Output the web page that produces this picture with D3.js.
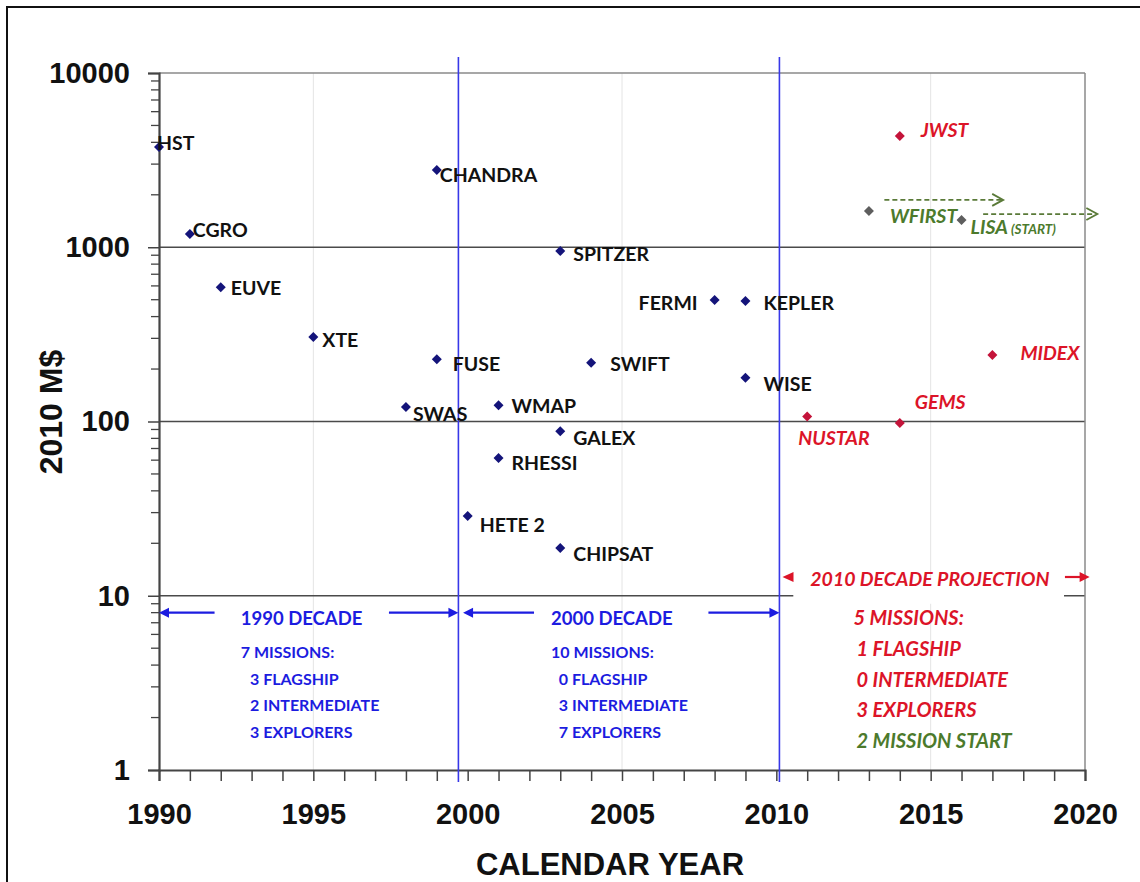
<!DOCTYPE html>
<html><head><meta charset="utf-8">
<script src="https://cdn.jsdelivr.net/npm/d3@7"></script>
<style>body{margin:0;background:#fff} svg{display:block}</style>
</head><body>
<svg id="c" width="1140" height="882"></svg>
<script>
// ---------- data ----------
const missionNames  = ["HST","CGRO","EUVE","XTE","CHANDRA","FUSE","SWAS","WMAP","HETE 2","RHESSI","GALEX","CHIPSAT","SPITZER","SWIFT","FERMI","KEPLER","WISE","NUSTAR","GEMS","JWST","MIDEX","WFIRST","LISA"];
const missionYears  = [1990,1991,1992,1995,1999,1999,1998,2001,2000,2001,2003,2003,2003,2004,2008,2009,2009,2011,2014,2014,2017,2013,2016];
const missionCosts  = [3760,1190,590,305,2775,228,121,124,28.7,61.7,88,18.8,951,217,498,492,178,107,98,4350,241,1615,1433];
const missionGroups = ["past","past","past","past","past","past","past","past","past","past","past","past","past","past","past","past","past","future","future","future","future","start","start"];
const xTickLabels = [1990,1995,2000,2005,2010,2015,2020];
const yTickLabels = [1,10,100,1000,10000];
const decadeBoundaries = [1999.7,2010.1];
const decade1990Lines = ["7 MISSIONS:","3 FLAGSHIP","2 INTERMEDIATE","3 EXPLORERS"];
const decade2000Lines = ["10 MISSIONS:","0 FLAGSHIP","3 INTERMEDIATE","7 EXPLORERS"];
const decade2010Lines = ["5 MISSIONS:","1 FLAGSHIP","0 INTERMEDIATE","3 EXPLORERS","2 MISSION START"];
// dashed "start" arrows: [fromYear, toYear, cost]
const startArrows = [[2013.5,2017.35,1870],[2016.7,2020.4,1550]];

// ---------- layout (label offsets in px) ----------
const labelOffsets = {
  "HST":[-2,-4],"CGRO":[3,-4],"EUVE":[10,1],"XTE":[9,3],"CHANDRA":[3,5],"FUSE":[16,5],
  "SWAS":[7,7],"WMAP":[13,1],"HETE 2":[12,9],"RHESSI":[13,5],"GALEX":[13,7],"CHIPSAT":[13,6],
  "SPITZER":[13,3],"SWIFT":[19,1],"FERMI":[-17,3],"KEPLER":[18,2],"WISE":[18,6],
  "NUSTAR":[-9,22],"GEMS":[15,-21],"JWST":[21,-6],"MIDEX":[28,-2],"WFIRST":[21,5],"LISA":[9,7]
};

const W = 1140, H = 882;
const L = 159, R = 1085, T = 73, B = 770;
const svg = d3.select("#c");
const x = d3.scaleLinear().domain([1990,2020]).range([L,R]);
const y = d3.scaleLog().domain([1,10000]).range([B,T]);

const NAVY = "#14147a", RED = "#dc1428", REDM = "#c4143a", GREEN = "#4c7a2c", GRAYM = "#5e5e5e";
const BLUE = "#1c1ce0", BLUEL = "#3838e8";
const LABEL_FONT = "Lato, 'Open Sans', sans-serif";
const AXIS_FONT = "'Liberation Sans', Arial, sans-serif";

svg.append("rect").attr("width",W).attr("height",H).attr("fill","#fff");
// outer frame
svg.append("rect").attr("x",7).attr("y",7).attr("width",W+20).attr("height",H+20)
  .attr("fill","none").attr("stroke","#111").attr("stroke-width",2);

// faint vertical grid
svg.append("g").selectAll("line").data([1995,2005,2015]).join("line")
  .attr("x1",d=>x(d)).attr("x2",d=>x(d)).attr("y1",T).attr("y2",B)
  .attr("stroke","#e4e4e4").attr("stroke-width",1);

// horizontal grid
svg.append("g").selectAll("line").data([10,100,1000]).join("line")
  .attr("x1",L).attr("x2",R).attr("y1",d=>y(d)).attr("y2",d=>y(d))
  .attr("stroke","#4a4a4a").attr("stroke-width",1.3);
svg.append("line").attr("x1",L).attr("x2",R).attr("y1",y(10000)).attr("y2",y(10000))
  .attr("stroke","#8a8a8a").attr("stroke-width",1.5);
svg.append("line").attr("x1",R).attr("x2",R).attr("y1",T).attr("y2",B)
  .attr("stroke","#8a8a8a").attr("stroke-width",1.5);

// white box behind projection title (cuts the grid line)
svg.append("rect").attr("x",x(2010.55)).attr("y",y(10)-16).attr("width",x(2019.32)-x(2010.55)).attr("height",24).attr("fill","#fff");

// axes
const yAxis = d3.axisLeft(y).tickValues(yTickLabels).tickFormat(d3.format("d")).tickSize(11).tickPadding(18);
const gy = svg.append("g").attr("transform",`translate(${L},0)`).call(yAxis);
const minorY = [];
for (let e=0;e<4;e++) for (let m=2;m<=9;m++) minorY.push(m*Math.pow(10,e));
gy.selectAll(".minor").data(minorY).join("line").attr("class","minor")
  .attr("x1",-8).attr("x2",0).attr("y1",d=>y(d)).attr("y2",d=>y(d))
  .attr("stroke","#444").attr("stroke-width",1.3);
gy.select(".domain").attr("stroke","#444").attr("stroke-width",2.2);
gy.selectAll(".tick line").attr("stroke","#444").attr("stroke-width",1.5);
gy.selectAll(".tick text").attr("font-family",AXIS_FONT).attr("font-weight","bold")
  .attr("font-size",29).attr("fill","#111");

const xAxis = d3.axisBottom(x).tickValues(d3.range(1990,2021)).tickSize(11)
  .tickFormat(d=> xTickLabels.includes(d) ? d : "").tickPadding(22);
const gx = svg.append("g").attr("transform",`translate(0,${B})`).call(xAxis);
gx.select(".domain").attr("stroke","#444").attr("stroke-width",2.2);
gx.selectAll(".tick line").attr("stroke","#444").attr("stroke-width",1.5);
gx.selectAll(".tick text").attr("font-family",AXIS_FONT).attr("font-weight","bold")
  .attr("font-size",29).attr("fill","#111");

// axis titles
svg.append("text").attr("transform","translate(62,412) rotate(-90)").attr("text-anchor","middle")
  .attr("font-family",AXIS_FONT).attr("font-weight","bold").attr("font-size",32).attr("fill","#111")
  .text("2010 M$");
svg.append("text").attr("x",610).attr("y",875).attr("text-anchor","middle")
  .attr("font-family",AXIS_FONT).attr("font-weight","bold").attr("font-size",31).attr("fill","#111")
  .text("CALENDAR YEAR");

// decade boundary lines
svg.append("g").selectAll("line").data(decadeBoundaries).join("line")
  .attr("x1",d=>x(d)).attr("x2",d=>x(d)).attr("y1",57).attr("y2",782)
  .attr("stroke",BLUEL).attr("stroke-width",1.6);

// start arrows (dashed)
const sa = svg.append("g");
startArrows.forEach(([a,b,v])=>{
  const yy = y(v);
  sa.append("line").attr("x1",x(a)).attr("x2",x(b)-2).attr("y1",yy).attr("y2",yy)
    .attr("stroke","#5a7a38").attr("stroke-width",1.8).attr("stroke-dasharray","5,3");
  sa.append("path").attr("d",`M${x(b)-11},${yy-6} L${x(b)},${yy} L${x(b)-11},${yy+6}`)
    .attr("fill","none").attr("stroke","#5a7a38").attr("stroke-width",1.8);
});

// markers
const idx = d3.range(missionNames.length);
const markerColor = g => g==="past"?NAVY:(g==="future"?REDM:GRAYM);
const labelColor = g => g==="past"?"#111":(g==="future"?RED:GREEN);
svg.append("g").selectAll("path").data(idx).join("path")
  .attr("transform",i=>`translate(${x(missionYears[i])},${y(missionCosts[i])})`)
  .attr("d","M0,-5 L5,0 L0,5 L-5,0Z")
  .attr("fill",i=>markerColor(missionGroups[i]));

// labels (alphabetic baseline; cap height ~0.72em)
const lg = svg.append("g");
idx.forEach(i=>{
  const n = missionNames[i], g = missionGroups[i], off = labelOffsets[n];
  const fs = 19.5;
  const t = lg.append("text")
    .attr("x",x(missionYears[i])+off[0]).attr("y",y(missionCosts[i])+off[1]+fs*0.36)
    .attr("text-anchor", n==="FERMI"?"end":"start")
    .attr("font-family",LABEL_FONT).attr("font-weight","bold")
    .attr("font-style", g==="past"?"normal":"italic")
    .attr("font-size",fs).attr("fill",labelColor(g));
  t.append("tspan").text(n);
  if (n==="LISA") t.append("tspan").attr("font-size",13.5).text(" (START)");
});

// ---------- decade annotations ----------
const ay = y(8); // arrow row
function arrowHead(g, tipX, yy, dir, color, len=10, half=5){
  g.append("path").attr("d",`M${tipX},${yy} L${tipX-dir*len},${yy-half} L${tipX-dir*len},${yy+half}Z`).attr("fill",color);
}
const an = svg.append("g");
// 1990 decade
an.append("line").attr("x1",x(1991.8)).attr("x2",x(1990)+8).attr("y1",ay).attr("y2",ay).attr("stroke",BLUE).attr("stroke-width",2.3);
arrowHead(an,x(1990),ay,-1,BLUE);
an.append("line").attr("x1",x(1997.45)).attr("x2",x(1999.7)-8).attr("y1",ay).attr("y2",ay).attr("stroke",BLUE).attr("stroke-width",2.3);
arrowHead(an,x(1999.7),ay,1,BLUE);
// 2000 decade
an.append("line").attr("x1",x(2002.15)).attr("x2",x(1999.85)+8).attr("y1",ay).attr("y2",ay).attr("stroke",BLUE).attr("stroke-width",2.3);
arrowHead(an,x(1999.85),ay,-1,BLUE);
an.append("line").attr("x1",x(2007.8)).attr("x2",x(2010.1)-8).attr("y1",ay).attr("y2",ay).attr("stroke",BLUE).attr("stroke-width",2.3);
arrowHead(an,x(2010.1),ay,1,BLUE);

// titles
an.append("text").attr("x",x(1992.65)).attr("y",ay+5).attr("dominant-baseline","central")
  .attr("font-family",LABEL_FONT).attr("font-weight","bold").attr("font-size",18.5).attr("fill",BLUE).text("1990 DECADE");
an.append("text").attr("x",x(2002.7)).attr("y",ay+5).attr("dominant-baseline","central")
  .attr("font-family",LABEL_FONT).attr("font-weight","bold").attr("font-size",18.5).attr("fill",BLUE).text("2000 DECADE");

function lineBlock(x0, x1, lines, y0, step, size, colorFn, italic){
  lines.forEach((s,k)=>{
    an.append("text").attr("x",k===0?x0:x1).attr("y",y0+k*step).attr("dominant-baseline","central")
      .attr("font-family",LABEL_FONT).attr("font-weight","bold").attr("font-style",italic?"italic":"normal")
      .attr("font-size",size).attr("fill",colorFn(k)).text(s);
  });
}
lineBlock(x(1992.65), x(1992.95), decade1990Lines, 651.5, 26.7, 16, ()=>BLUE, false);
lineBlock(x(2002.7), x(2002.95), decade2000Lines, 651.5, 26.7, 16, ()=>BLUE, false);

// 2010 projection
const py = 577;
arrowHead(an, x(2010.2), py, -1, RED, 11, 5);
an.append("line").attr("x1",x(2019.35)).attr("x2",x(2020.15)-8).attr("y1",py).attr("y2",py).attr("stroke",RED).attr("stroke-width",2.2);
arrowHead(an, x(2020.15), py, 1, RED, 10, 5);
an.append("text").attr("x",x(2011.1)).attr("y",py+1).attr("dominant-baseline","central")
  .attr("font-family",LABEL_FONT).attr("font-weight","bold").attr("font-style","italic")
  .attr("font-size",19.5).attr("fill",RED).text("2010 DECADE PROJECTION");
lineBlock(x(2012.5), x(2012.6), decade2010Lines, 617, 30.8, 20, k=> k===4?GREEN:RED, true);
</script>
</body></html>
